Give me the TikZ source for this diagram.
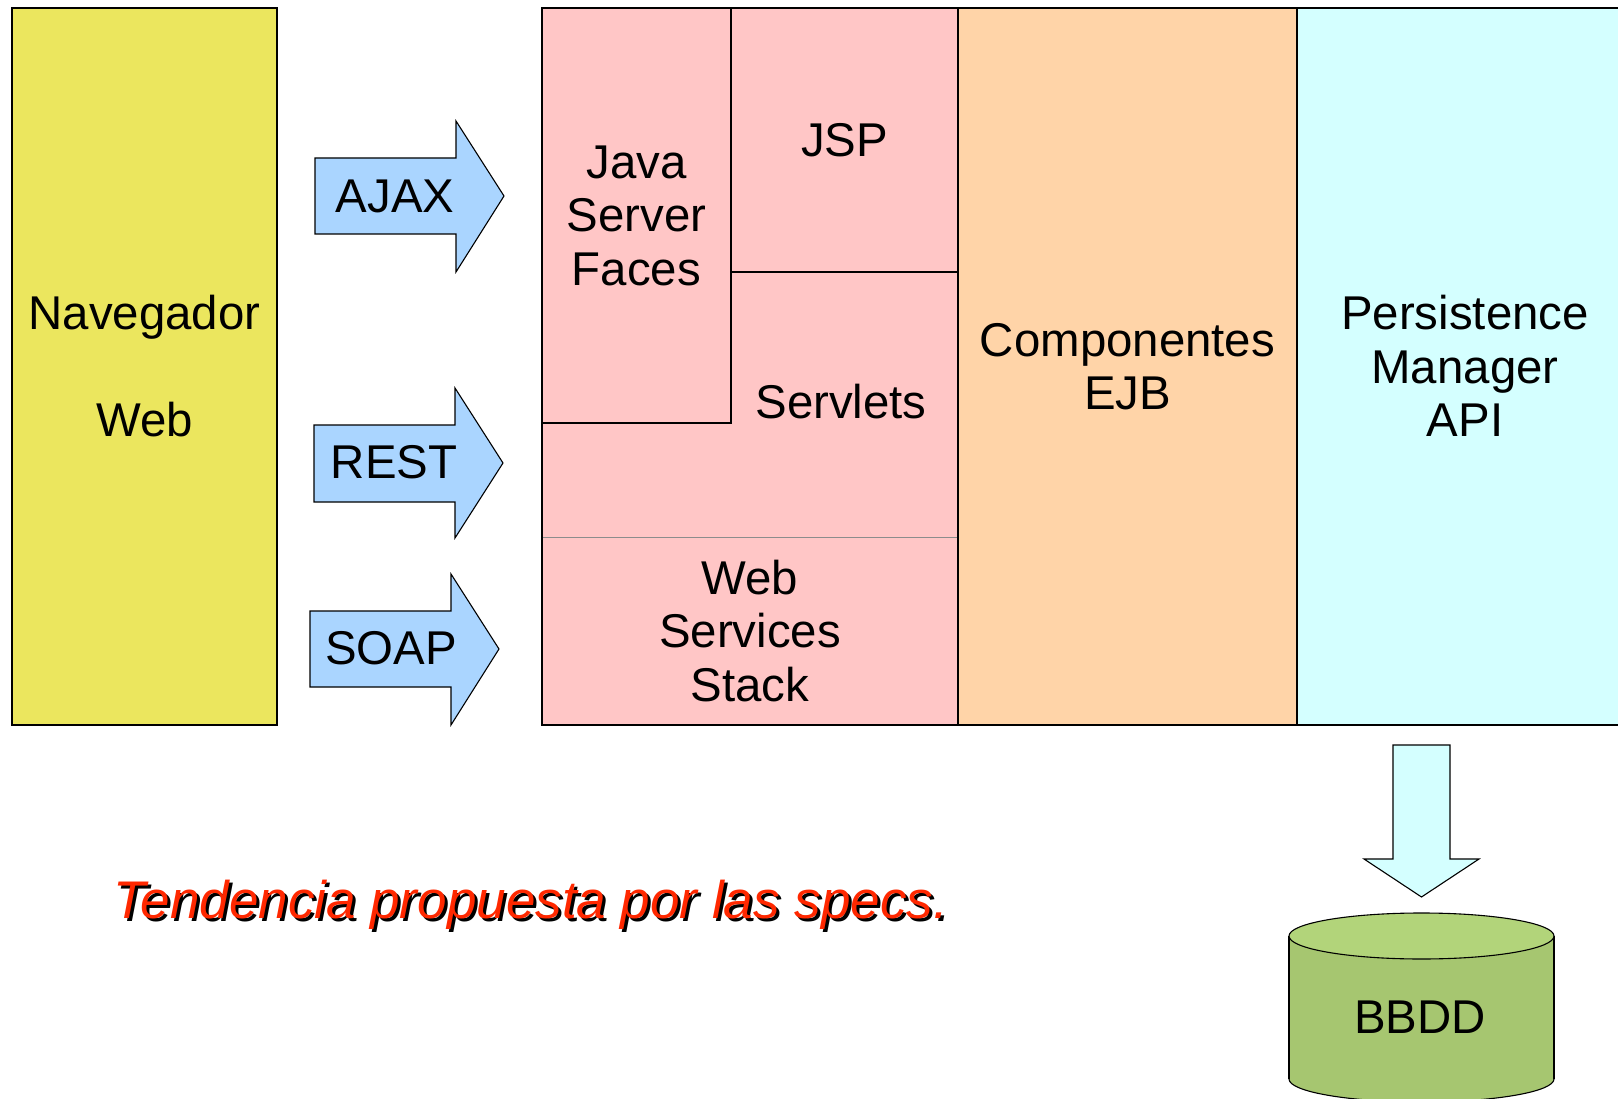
\documentclass[tikz,border=0pt]{standalone}
\usepackage{fontspec}
\setmainfont{Liberation Sans}
\definecolor{navcol}{RGB}{235,230,94}
\definecolor{pinkcol}{RGB}{255,198,198}
\definecolor{ejbcol}{RGB}{255,212,168}
\definecolor{pmcol}{RGB}{212,255,255}
\definecolor{arrowblue}{RGB}{170,213,255}
\definecolor{cylside}{RGB}{166,198,112}
\definecolor{cyltop}{RGB}{178,212,122}
\definecolor{redcol}{RGB}{255,40,0}
\begin{document}
\begin{tikzpicture}[x=1pt,y=-1pt,
  every node/.style={font=\fontsize{47.4}{53.5}\selectfont},
  block/.style={rectangle, draw=black, line width=1.3pt, inner sep=0pt, outer sep=0pt, anchor=north west, align=center},
  lbl/.style={inner sep=0pt, align=center},
  arrowshape/.style={draw=black, line width=1.1pt, fill=arrowblue, line join=miter},
  redtext/.style={anchor=base west, inner sep=0pt, font=\fontsize{53}{60}\selectfont\itshape}]
\useasboundingbox (0,0) rectangle (1618,1099);
% browser
\node[block, fill=navcol, minimum width=265, minimum height=717] (nav) at (12,8) {Navegador\\\mbox{}\\Web};
% web tier
\node[block, draw=none, fill=pinkcol, minimum width=416, minimum height=717] (web) at (542,8) {};
\node[block, fill=pinkcol, minimum width=189, minimum height=415] (jsf) at (542,8) {Java\\Server\\Faces};
\node[block, fill=pinkcol, minimum width=227, minimum height=264] (jsp) at (731,8) {JSP};
\node[lbl] (servlets) at (841,402) {Servlets};
\node[block, draw=none, fill=pinkcol, minimum width=416, minimum height=188] (ws) at (542,537) {Web\\Services\\Stack};
\draw[line width=0.8pt, draw=black!45] (ws.north west) -- (ws.north east);
\draw[line width=1.3pt] (web.north west) rectangle (web.south east);
% EJB
\node[block, fill=ejbcol, minimum width=339, minimum height=717] (ejb) at (958,8) {Componentes\\EJB};
% persistence
\node[block, draw=none, fill=pmcol, minimum width=321, minimum height=717] (pm) at (1297,8) {};
\draw[line width=1.3pt] (pm.north east) -- (pm.north west) -- (pm.south west) -- (pm.south east);
\node[lbl] (pmtext) at (1465,366) {Persistence\\Manager\\API};
% protocol arrows
\draw[arrowshape] (315,158) -- (456,158) -- (456,121) -- (504,196) -- (456,272) -- (456,234) -- (315,234) -- cycle;
\node[lbl] (ajax) at (395,196) {AJAX};
\draw[arrowshape] (314,425) -- (455,425) -- (455,388) -- (503,463) -- (455,538) -- (455,502) -- (314,502) -- cycle;
\node[lbl] (rest) at (394,462) {REST};
\draw[arrowshape] (310,611) -- (451,611) -- (451,574) -- (499,649) -- (451,725) -- (451,687) -- (310,687) -- cycle;
\node[lbl] (soap) at (391,648) {SOAP};
% down arrow
\draw[arrowshape, fill=pmcol] (1393,745) -- (1450,745) -- (1450,859) -- (1479,859) -- (1421.5,897) -- (1364,859) -- (1393,859) -- cycle;
% database cylinder
\filldraw[fill=cylside, draw=black, line width=1.1pt] (1421.5,1079) ellipse [x radius=132.5, y radius=23];
\fill[cylside] (1289,936) rectangle (1554,1079);
\draw[line width=1.1pt] (1289,936) -- (1289,1079);
\draw[line width=1.1pt] (1554,936) -- (1554,1079);
\filldraw[fill=cyltop, draw=black, line width=1.1pt] (1421.5,936) ellipse [x radius=132.5, y radius=23];
\node[lbl] (bbdd) at (1420,1017) {BBDD};
% caption with shadow
\node[redtext, text=black] (shadow) at (116,921) {Tendencia propuesta por las specs.};
\node[redtext, text=redcol] (tend) at (113,918) {Tendencia propuesta por las specs.};
\end{tikzpicture}
\end{document}
